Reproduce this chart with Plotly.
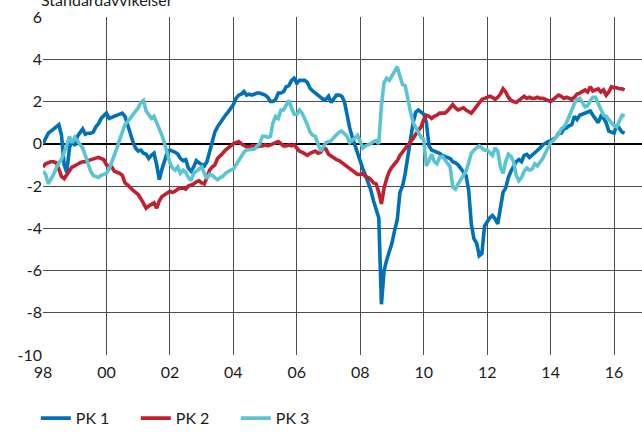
import plotly.graph_objects as go

# Monthly observations, January 1998 to May 2016
start_year = 1998
tick_years = [1998, 2000, 2002, 2004, 2006, 2008, 2010, 2012, 2014, 2016]
tick_labels = ["98", "00", "02", "04", "06", "08", "10", "12", "14", "16"]
y_ticks = [-10, -8, -6, -4, -2, 0, 2, 4, 6]
y_labels = ["-10", "-8", "-6", "-4", "-2", "0", "2", "4", "6"]

pk1 = [
    0.0, 0.3, 0.5, 0.6, 0.7, 0.8, 0.9, 0.4, -1.0, -1.35, -0.2, 0.2,        # 1998
    -0.1, 0.35, 0.55, 0.7, 0.45, 0.5, 0.5, 0.55, 0.8, 0.95, 1.2, 1.35,     # 1999
    1.45, 1.2, 1.25, 1.3, 1.35, 1.4, 1.45, 1.3, 0.9, 0.4, 0.1, -0.2,       # 2000
    -0.35, -0.3, -0.45, -0.5, -0.7, -0.55, -0.45, -1.0, -1.7, -1.2, -0.8, -0.4,  # 2001
    -0.3, -0.35, -0.4, -0.5, -0.7, -0.8, -0.75, -1.15, -1.3, -1.1, -0.8, -0.9,   # 2002
    -1.0, -1.05, -0.85, -0.35, 0.1, 0.55, 0.8, 1.0, 1.2, 1.35, 1.5, 1.7,   # 2003
    1.85, 2.15, 2.3, 2.35, 2.47, 2.3, 2.35, 2.3, 2.35, 2.4, 2.4, 2.35,     # 2004
    2.3, 2.2, 2.0, 2.0, 2.1, 2.4, 2.4, 2.47, 2.7, 2.75, 3.0, 3.1,          # 2005
    2.87, 3.0, 3.0, 3.0, 2.9, 2.63, 2.5, 2.4, 2.3, 2.15, 2.1, 2.1,         # 2006
    2.25, 1.95, 2.15, 2.3, 2.3, 2.25, 2.0, 1.3, 0.75, 0.3, -0.1, -0.45,    # 2007
    -0.85, -1.2, -1.5, -1.8, -2.2, -2.7, -3.1, -3.5, -7.6, -6.0, -5.5, -5.1,  # 2008
    -4.7, -4.1, -3.6, -2.3, -2.0, -1.4, -0.6, 0.4, 1.0, 1.5, 1.6, 1.5,     # 2009
    1.4, 1.0, -0.1, -0.3, -0.35, -0.4, -0.45, -0.55, -0.6, -0.65, -0.7, -0.85,  # 2010
    -0.9, -1.0, -1.15, -1.3, -1.5, -2.2, -3.8, -4.5, -4.7, -5.3, -5.2, -3.9,    # 2011
    -3.7, -3.5, -3.4, -3.55, -3.8, -2.9, -2.3, -2.1, -1.6, -1.3, -1.05, -0.85,  # 2012
    -0.75, -0.85, -0.55, -0.5, -0.65, -0.55, -0.4, -0.3, -0.2, -0.05, 0.05, 0.1,  # 2013
    0.13, 0.2, 0.3, 0.5, 0.5, 0.7, 0.75, 0.85, 0.9, 1.3, 1.15, 1.35,       # 2014
    1.4, 1.45, 1.5, 1.55, 1.35, 1.2, 1.0, 1.3, 1.2, 1.0, 0.6, 0.55,        # 2015
    0.5, 0.9, 0.7, 0.55, 0.5,                                              # 2016
]

pk2 = [
    -1.1, -0.95, -0.9, -0.85, -0.85, -0.9, -1.2, -1.55, -1.65, -1.45, -1.3, -1.1,  # 1998
    -1.05, -0.95, -0.9, -0.85, -0.85, -0.8, -0.75, -0.7, -0.68, -0.65, -0.7, -0.75,  # 1999
    -1.0, -1.05, -1.1, -1.3, -1.35, -1.4, -1.5, -1.85, -1.95, -2.1, -2.2, -2.3,  # 2000
    -2.4, -2.6, -2.85, -3.05, -2.95, -2.85, -2.8, -3.05, -2.7, -2.5, -2.4, -2.3,  # 2001
    -2.25, -2.3, -2.25, -2.15, -2.1, -2.1, -2.15, -2.0, -1.95, -1.9, -1.8, -1.75,  # 2002
    -1.85, -1.9, -1.6, -1.25, -1.1, -1.0, -0.7, -0.6, -0.45, -0.3, -0.2, -0.05,  # 2003
    0.0, 0.05, 0.1, 0.0, -0.1, -0.15, -0.15, -0.1, -0.1, -0.15, -0.1, -0.1,  # 2004
    -0.05, -0.1, -0.05, 0.0, 0.05, 0.1, 0.0, -0.1, -0.1, -0.05, -0.1, -0.05,  # 2005
    -0.2, -0.35, -0.4, -0.5, -0.55, -0.45, -0.4, -0.35, -0.45, -0.4, -0.2, -0.25,  # 2006
    -0.5, -0.6, -0.7, -0.75, -0.8, -0.9, -1.0, -1.05, -1.2, -1.3, -1.35, -1.45,  # 2007
    -1.45, -1.4, -1.55, -1.6, -1.7, -1.85, -1.9, -2.3, -2.85, -2.1, -1.65, -1.3,  # 2008
    -1.1, -0.95, -0.8, -0.55, -0.4, -0.2, -0.1, 0.1, 0.25, 0.45, 0.65, 0.8,  # 2009
    1.15, 1.35, 1.3, 1.2, 1.3, 1.35, 1.45, 1.45, 1.45, 1.55, 1.7, 1.85,    # 2010
    1.7, 1.6, 1.65, 1.7, 1.6, 1.5, 1.45, 1.6, 1.75, 1.95, 2.1, 2.15,       # 2011
    2.2, 2.25, 2.2, 2.1, 2.2, 2.35, 2.6, 2.45, 2.2, 2.05, 2.0, 1.95,       # 2012
    2.05, 2.15, 2.25, 2.15, 2.2, 2.15, 2.15, 2.2, 2.15, 2.15, 2.1, 2.05,   # 2013
    2.0, 2.1, 2.2, 2.3, 2.25, 2.15, 2.2, 2.15, 2.1, 2.2, 2.35, 2.4,        # 2014
    2.5, 2.55, 2.45, 2.7, 2.5, 2.55, 2.6, 2.45, 2.55, 2.3, 2.45, 2.7,      # 2015
    2.65, 2.65, 2.6, 2.6, 2.55,                                            # 2016
]

pk3 = [
    -1.3, -1.45, -1.9, -1.7, -1.45, -1.15, -0.9, -0.75, -0.45, -0.05, 0.35, 0.05,  # 1998
    0.3, 0.15, -0.05, -0.2, -0.55, -0.95, -1.3, -1.5, -1.55, -1.6, -1.5, -1.45,  # 1999
    -1.4, -1.2, -0.9, -0.6, -0.2, 0.2, 0.6, 0.9, 1.05, 1.2, 1.4, 1.55,     # 2000
    1.7, 1.95, 2.05, 1.55, 1.4, 1.2, 1.3, 1.0, 0.8, 0.4, 0.0, -0.5,        # 2001
    -0.9, -1.15, -1.25, -1.1, -1.4, -1.25, -1.35, -1.6, -1.75, -1.4, -1.3, -1.25,  # 2002
    -1.1, -1.4, -1.65, -1.45, -1.5, -1.6, -1.7, -1.6, -1.55, -1.4, -1.3, -1.25,  # 2003
    -1.2, -1.0, -0.75, -0.55, -0.4, -0.3, -0.28, -0.25, -0.25, -0.1, 0.0, 0.35,  # 2004
    0.35, 0.3, 0.35, 1.0, 1.3, 1.2, 1.6, 1.6, 1.85, 2.05, 1.7, 1.4,        # 2005
    1.4, 1.6, 1.45, 1.2, 0.9, 0.55, 0.4, 0.35, 0.0, -0.35, -0.15, 0.05,    # 2006
    0.1, 0.15, 0.3, 0.45, 0.55, 0.6, 0.45, 0.35, 0.05, 0.15, 0.3, 0.4,     # 2007
    0.1, -0.2, -0.1, -0.05, 0.0, 0.1, 0.15, 0.0, 1.8, 2.9, 3.1, 3.0,       # 2008
    3.2, 3.45, 3.65, 3.2, 2.8, 2.75, 2.0, 1.5, 1.0, 0.75, 0.5, 0.3,        # 2009
    0.2, -1.05, -0.8, -0.5, -0.85, -0.95, -0.65, -0.6, -0.75, -0.95, -1.1, -2.05,  # 2010
    -2.15, -1.9, -1.7, -1.5, -1.3, -0.9, -0.45, -0.3, -0.2, -0.1, -0.2, -0.3,  # 2011
    -0.3, -0.4, -0.55, -0.2, -0.35, -1.1, -1.4, -0.85, -0.5, -0.6, -0.85, -1.5,  # 2012
    -1.75, -1.6, -1.3, -1.15, -1.25, -1.2, -0.95, -1.05, -0.9, -0.7, -0.45, -0.2,  # 2013
    0.05, 0.15, 0.3, 0.45, 0.7, 0.8, 1.0, 1.35, 1.6, 1.9, 2.1, 2.15,       # 2014
    1.95, 1.75, 1.8, 2.05, 2.2, 2.2, 1.9, 1.6, 1.35, 1.3, 1.15, 1.0,       # 2015
    0.85, 0.8, 1.1, 1.35, 1.3,                                             # 2016
]

series = [("PK 1", pk1, "#0070b8"), ("PK 2", pk2, "#c0202f"), ("PK 3", pk3, "#5bc4d3")]

# decimal-year positions for each monthly value
months = [start_year + i / 12 for i in range(len(pk1))]

FONT = "Lato, 'Open Sans', sans-serif"
TEXT = "#1a1a1a"

fig = go.Figure()
for name, vals, col in series:
    fig.add_trace(go.Scatter(
        x=months, y=vals, name=name, mode="lines",
        line=dict(color=col, width=3.6),
    ))

fig.update_layout(
    width=642, height=432,
    margin=dict(l=43, r=0, t=17, b=77, autoexpand=False),
    paper_bgcolor="white", plot_bgcolor="white",
    font=dict(family=FONT, size=16, color=TEXT),
    showlegend=True,
    legend=dict(
        orientation="h", x=-0.012, xanchor="left",
        yref="container", y=0.032, yanchor="middle",
        font=dict(family=FONT, size=16, color=TEXT),
        entrywidth=55, entrywidthmode="pixels",
        itemwidth=30, tracegroupgap=0, bgcolor="rgba(0,0,0,0)",
    ),
    xaxis=dict(
        range=[1998, 2016.88],
        tickmode="array", tickvals=tick_years, ticktext=tick_labels,
        showgrid=True, gridcolor="#4d4d4d", gridwidth=1,
        zeroline=False, ticks="", showline=False,
        ticklabelstandoff=6, automargin=False,
        tickfont=dict(family=FONT, size=16, color=TEXT),
        fixedrange=True,
    ),
    yaxis=dict(
        range=[-10, 6],
        tickmode="array", tickvals=y_ticks, ticktext=y_labels,
        showgrid=True, gridcolor="#4d4d4d", gridwidth=1,
        zeroline=True, zerolinecolor="#000000", zerolinewidth=2,
        ticks="", showline=False, automargin=False,
        tickfont=dict(family=FONT, size=16, color=TEXT),
        fixedrange=True,
    ),
    annotations=[dict(
        text="Standardavvikelser", xref="paper", yref="paper",
        x=0, y=1, xanchor="left", yanchor="bottom", yshift=6, xshift=-4,
        showarrow=False, font=dict(family=FONT, size=16, color=TEXT),
    )],
)

fig.write_html("out.html")
